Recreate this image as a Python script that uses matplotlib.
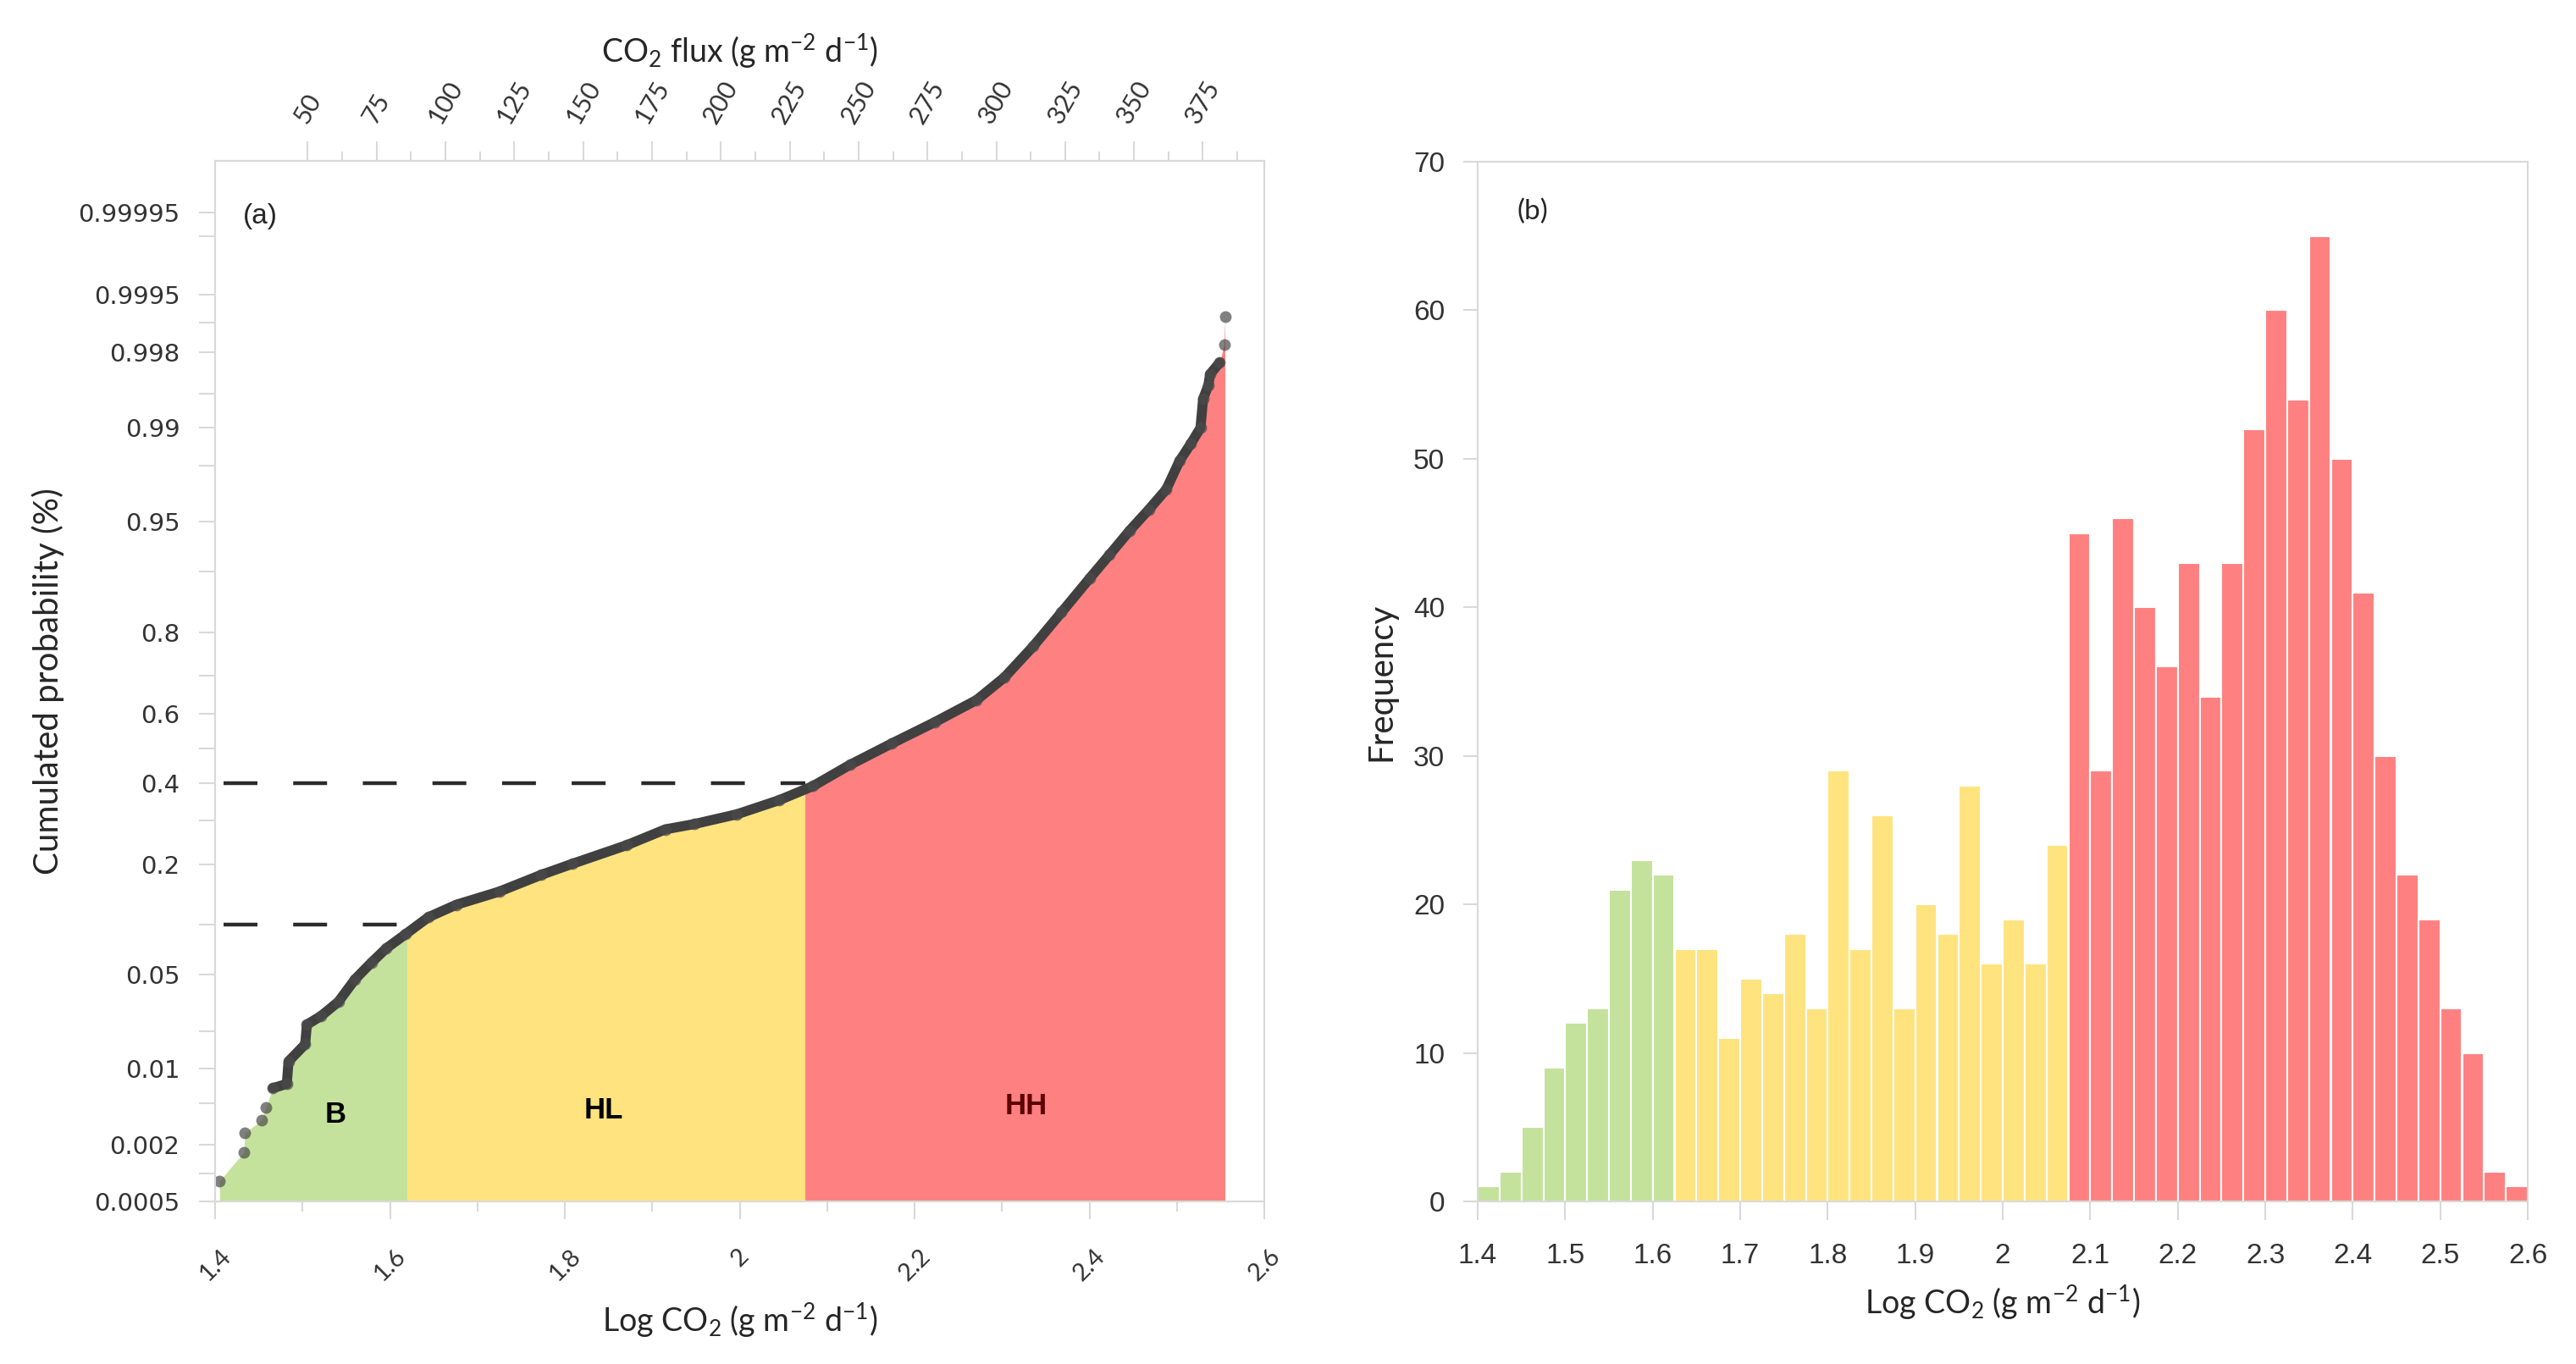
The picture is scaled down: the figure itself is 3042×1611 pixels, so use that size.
import numpy as np
import matplotlib
matplotlib.use("Agg")
import matplotlib.pyplot as plt
from matplotlib.patches import Rectangle
from matplotlib.transforms import blended_transform_factory
from statistics import NormalDist

plt.rcParams['font.family'] = ['Lato', 'DejaVu Sans']
plt.rcParams['mathtext.fontset'] = 'custom'
plt.rcParams['mathtext.rm'] = 'Lato'
plt.rcParams['mathtext.it'] = 'Lato:italic'
plt.rcParams['mathtext.bf'] = 'Lato:bold'

# ---------------- data ----------------
# (a) cumulative probability of log CO2 flux (points along the curve)
log_co2 = [1.405, 1.433, 1.434, 1.453, 1.458, 1.466, 1.482, 1.484, 1.503, 1.505,
           1.521, 1.541, 1.560, 1.579, 1.596, 1.618, 1.644, 1.676, 1.725, 1.773,
           1.809, 1.871, 1.915, 1.948, 1.997, 2.045, 2.084, 2.126, 2.174, 2.223,
           2.271, 2.303, 2.336, 2.368, 2.400, 2.423, 2.446, 2.468, 2.488, 2.503,
           2.516, 2.527, 2.530, 2.536, 2.538, 2.549, 2.554, 2.555]
cum_prob = [0.00084, 0.00168, 0.0026, 0.00345, 0.00453, 0.0068, 0.0074, 0.0115, 0.0158, 0.0224,
            0.0259, 0.0328, 0.0467, 0.060, 0.0733, 0.0886, 0.110, 0.128, 0.149, 0.179,
            0.201, 0.241, 0.278, 0.291, 0.316, 0.353, 0.392, 0.452, 0.514, 0.575,
            0.637, 0.697, 0.771, 0.838, 0.891, 0.920, 0.943, 0.9585, 0.970, 0.9815,
            0.9865, 0.990, 0.9944, 0.9958, 0.9967, 0.99745, 0.99831, 0.99913]
n_low_isolated = 5      # first points drawn as single dots only
n_top_isolated = 2      # last points drawn as single dots only

class_names = ['B', 'HL', 'HH']
class_colors = ['#c4e29b', '#ffe37f', '#ff8080']
class_text_colors = ['black', 'black', '#5c0000']
class_limits_a = [1.4, 1.62, 2.075, 2.6]
class_label_x = [1.5375, 1.844, 2.3275]
class_label_p = [0.0039, 0.0043, 0.0047]

dash_prob = [0.1, 0.4]
dash_start = 1.41
dash_end = [1.61, 2.075]

prob_ticks = [0.0005, 0.001, 0.002, 0.005, 0.01, 0.02, 0.05, 0.1, 0.2, 0.3, 0.4, 0.5,
              0.6, 0.7, 0.8, 0.9, 0.95, 0.98, 0.99, 0.995, 0.998, 0.999, 0.9995,
              0.9999, 0.99995]
prob_labels = ['0.0005', '', '0.002', '', '0.01', '', '0.05', '', '0.2', '', '0.4', '',
               '0.6', '', '0.8', '', '0.95', '', '0.99', '', '0.998', '', '0.9995',
               '', '0.99995']
log_major = [1.4, 1.6, 1.8, 2.0, 2.2, 2.4, 2.6]
log_major_labels = ['1.4', '1.6', '1.8', '2', '2.2', '2.4', '2.6']
log_minor = [1.5, 1.7, 1.9, 2.1, 2.3, 2.5]
flux_ticks = [50, 75, 100, 125, 150, 175, 200, 225, 250, 275, 300, 325, 350, 375]
flux_minor = [62.5, 87.5, 112.5, 137.5, 162.5, 187.5, 212.5, 237.5, 262.5, 287.5,
              312.5, 337.5, 362.5, 387.5]
flux_range = (16.4, 397.3)

# (b) histogram of log CO2 flux
freq = [1, 2, 5, 9, 12, 13, 21, 23, 22,
        17, 17, 11, 15, 14, 18, 13, 29, 17, 26, 13, 20, 18, 28, 16, 19, 16, 24,
        45, 29, 46, 40, 36, 43, 34, 43, 52, 60, 54, 65, 50, 41, 30, 22, 19, 13,
        10, 2, 1]
bin_start = 1.4
bin_width = 0.025
hist_breaks = [1.625, 2.075]
hist_ticks = [1.4, 1.5, 1.6, 1.7, 1.8, 1.9, 2.0, 2.1, 2.2, 2.3, 2.4, 2.5, 2.6]
hist_tick_labels = ['1.4', '1.5', '1.6', '1.7', '1.8', '1.9', '2', '2.1', '2.2',
                    '2.3', '2.4', '2.5', '2.6']
freq_ticks = [0, 10, 20, 30, 40, 50, 60, 70]

# ---------------- probability (probit) scale ----------------
nd = NormalDist()
_ppf = np.vectorize(nd.inv_cdf, otypes=[float])
_cdf = np.vectorize(nd.cdf, otypes=[float])


def probit(p):
    p = np.clip(np.asarray(p, dtype=float), 1e-12, 1 - 1e-12)
    return _ppf(p)


def inv_probit(z):
    return _cdf(np.asarray(z, dtype=float))


frame_col = '#d9d9d9'
tick_txt = '#333333'
lab_txt = '#262626'
log_label = r'Log CO$\mathregular{_2}$ (g m$\mathregular{^{-2}}$ d$\mathregular{^{-1}}$)'
flux_label = r'CO$\mathregular{_2}$ flux (g m$\mathregular{^{-2}}$ d$\mathregular{^{-1}}$)'

W, H = 3042, 1611
fig = plt.figure(figsize=(W / 100, H / 100), dpi=100)
ax = fig.add_axes([254 / W, 1 - 1419 / H, 1239 / W, 1229 / H])
axb = fig.add_axes([1745 / W, 1 - 1419 / H, 1240 / W, 1228 / H])

# ---------------- panel (a) ----------------
ax.set_yscale('function', functions=(probit, inv_probit))
ax.set_xlim(1.4, 2.6)
ax.set_ylim(0.0005, 0.99999)

xs = np.array(log_co2)
ps = np.array(cum_prob)
strip = blended_transform_factory(ax.transData, ax.transAxes)
for lo, hi, col in zip(class_limits_a[:-1], class_limits_a[1:], class_colors):
    poly = ax.fill_between(xs, ps, 0.0005, color=col, lw=0, zorder=1)
    poly.set_clip_path(Rectangle((lo, 0), hi - lo, 1, transform=strip))

ax.hlines(dash_prob, dash_start, dash_end, colors='#2b2b2b', lw=3.2,
          linestyles=(0, (9, 9.5)), zorder=2)
dense = slice(n_low_isolated, len(xs) - n_top_isolated)
ax.plot(xs[dense], ps[dense], '-', lw=8.5, color='#404040',
        solid_capstyle='round', solid_joinstyle='round', zorder=3)
ax.plot(xs, ps, 'o', ms=10, color='#4a4a4a', alpha=0.7, mew=0, zorder=4)

for name, tx, tp, tc in zip(class_names, class_label_x, class_label_p, class_text_colors):
    ax.text(tx, tp, name, ha='center', va='center', fontsize=25, fontweight='bold',
            family='Liberation Sans', color=tc, zorder=5)

ax.text(0.043, 0.947, '(a)', transform=ax.transAxes, ha='center', va='center',
        fontsize=24, family='Liberation Sans', color=lab_txt)

ax.set_yticks(prob_ticks)
ax.set_yticklabels(prob_labels)
ax.minorticks_off()
ax.tick_params(axis='y', length=14, width=1.5, color=frame_col, pad=16,
               labelsize=21, labelcolor=tick_txt)
for lab in ax.get_yticklabels():
    lab.set_family('DejaVu Sans')

ax.set_xticks(log_major, log_major_labels)
ax.set_xticks(log_minor, minor=True)
ax.tick_params(axis='x', which='major', length=15, width=1.5, color=frame_col,
               pad=22, labelsize=21, labelcolor=tick_txt, labelrotation=45)
ax.tick_params(axis='x', which='minor', length=8.5, width=1.5, color=frame_col)
ax.set_xlabel(log_label, fontsize=27, color=lab_txt, labelpad=14)
ax.set_ylabel('Cumulated probability (%)', fontsize=29, color=lab_txt, labelpad=12)

axt = ax.twiny()
axt.set_xlim(*flux_range)
axt.set_xticks(flux_ticks)
axt.set_xticks(flux_minor, minor=True)
axt.tick_params(axis='x', which='major', length=16.5, width=1.5, color=frame_col,
                pad=12, labelsize=22, labelcolor=tick_txt, labelrotation=60)
axt.tick_params(axis='x', which='minor', length=8, width=1.5, color=frame_col)
axt.set_xlabel(flux_label, fontsize=27, color=lab_txt, labelpad=12)

for a in (ax, axt):
    for sp in a.spines.values():
        sp.set_color(frame_col)
        sp.set_linewidth(1.5)

# ---------------- panel (b) ----------------
left_edges = bin_start + bin_width * np.arange(len(freq))
centers = left_edges + bin_width / 2
bar_colors = [class_colors[k] for k in np.digitize(centers, hist_breaks)]
axb.bar(left_edges, freq, width=bin_width, align='edge', color=bar_colors,
        edgecolor='white', linewidth=1.5, zorder=2)
axb.set_xlim(1.4, 2.6)
axb.set_ylim(0, 70)
axb.set_xticks(hist_ticks, hist_tick_labels)
axb.set_yticks(freq_ticks)
axb.tick_params(axis='x', length=16, width=1.5, color=frame_col, pad=19,
                labelsize=24, labelcolor=tick_txt)
axb.tick_params(axis='y', length=12, width=1.5, color=frame_col, pad=16,
                labelsize=24, labelcolor=tick_txt)
for lab in axb.get_xticklabels() + axb.get_yticklabels():
    lab.set_family('Liberation Sans')
axb.set_xlabel(log_label, fontsize=27, color=lab_txt, labelpad=12)
axb.set_ylabel('Frequency', fontsize=29, color=lab_txt, labelpad=14)
axb.text(0.052, 0.952, '(b)', transform=axb.transAxes, ha='center', va='center',
         fontsize=24, color=lab_txt)
for sp in axb.spines.values():
    sp.set_color(frame_col)
    sp.set_linewidth(1.5)

fig.savefig('out.png', dpi=100, facecolor='white')
